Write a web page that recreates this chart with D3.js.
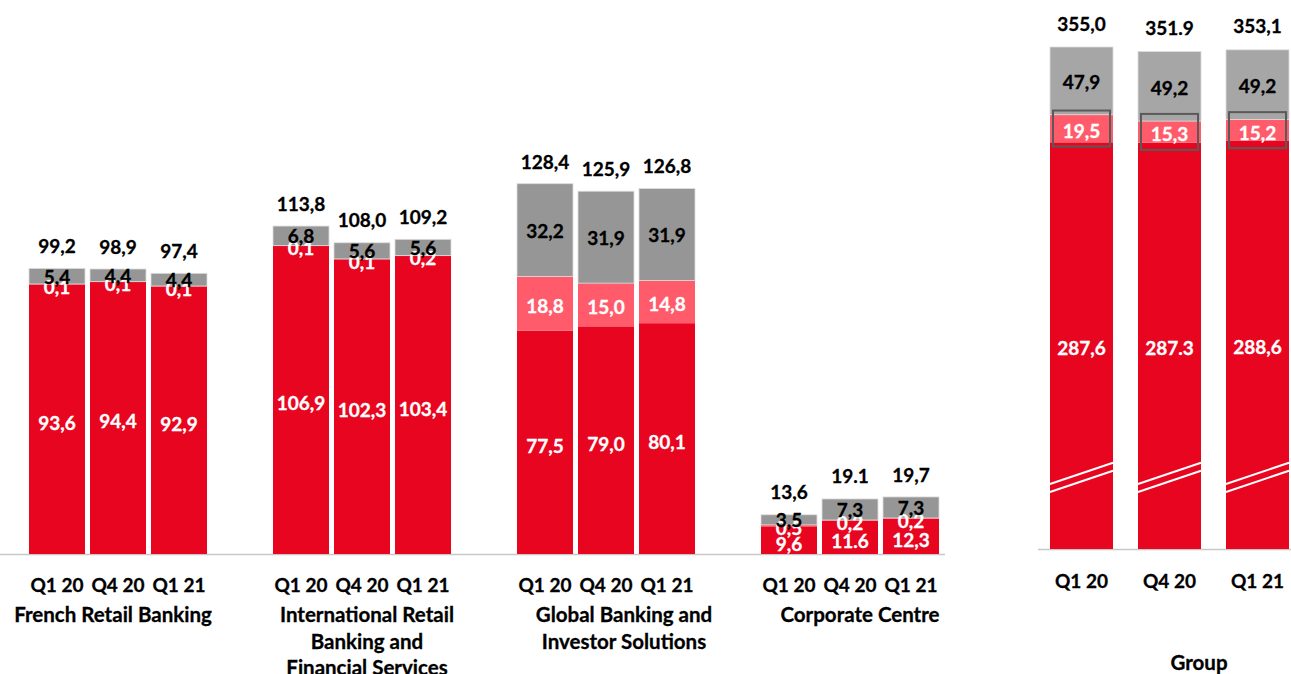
<!DOCTYPE html>
<html>
<head>
<meta charset="utf-8">
<script src="https://cdn.jsdelivr.net/npm/d3@7"></script>
<style>
  body { margin: 0; background: #fff; }
  text { font-family: Lato, "Noto Sans", sans-serif; font-weight: 700; }
</style>
</head>
<body>
<div id="chart"></div>
<script>
var periods = ["Q1 20", "Q4 20", "Q1 21"];
var businesses = ["FRB", "IRBFS", "GBIS", "CC"];
var businessNames = [
    ["French Retail Banking"],
    ["International Retail", "Banking and", "Financial Services"],
    ["Global Banking and", "Investor Solutions"],
    ["Corporate Centre"]
];

// RWA by business (EUR bn): credit (red), market (pink), operational (grey)
var creditRisk = {
    FRB: [93.6, 94.4, 92.9],
    IRBFS: [106.9, 102.3, 103.4],
    GBIS: [77.5, 79.0, 80.1],
    CC: [9.6, 11.6, 12.3]
};
var marketRisk = {
    FRB: [0.1, 0.1, 0.1],
    IRBFS: [0.1, 0.1, 0.2],
    GBIS: [18.8, 15.0, 14.8],
    CC: [0.5, 0.2, 0.2]
};
var operationalRisk = {
    FRB: [5.4, 4.4, 4.4],
    IRBFS: [6.8, 5.6, 5.6],
    GBIS: [32.2, 31.9, 31.9],
    CC: [3.5, 7.3, 7.3]
};
var totals = {
    FRB: [99.2, 98.9, 97.4],
    IRBFS: [113.8, 108.0, 109.2],
    GBIS: [128.4, 125.9, 126.8],
    CC: [13.6, 19.1, 19.7]
};

var groupCredit = [287.6, 287.3, 288.6];
var groupMarket = [19.5, 15.3, 15.2];
var groupOperational = [47.9, 49.2, 49.2];
var groupTotals = [355.0, 351.9, 353.1];
var groupBreak = [46, 61]; // value at left / right edge of the axis-break mark

// labels printed with a decimal point instead of a comma in the source
var pointLabels = ["CC|Q4 20|total", "CC|Q4 20|credit", "Group|Q4 20|total", "Group|Q4 20|credit"];

var colors = { credit: "#e8051f", market: "#ff5b6a", operational: "#969696", groupOperational: "#a6a6a6" };

function fmt(v, key) {
    var s = v.toFixed(1);
    return pointLabels.indexOf(key) >= 0 ? s : s.replace(".", ",");
}

var width = 1291, height = 674;
var svg = d3.select("#chart").append("svg")
    .attr("width", width)
    .attr("height", height);

// ---- business panel ----
var x0 = d3.scaleBand().domain(businesses).range([29, 939]).paddingInner(66 / 244);
var x1 = d3.scaleBand().domain(periods).range([0, x0.bandwidth()]).paddingInner(5 / 61);
var y = d3.scaleLinear().domain([0, 128.4]).range([554, 184]);

svg.append("line")
    .attr("x1", 0).attr("x2", 945)
    .attr("y1", y(0) + 0.5).attr("y2", y(0) + 0.5)
    .attr("stroke", "#c8c8c8").attr("stroke-width", 1.5);

var bars = [];
businesses.forEach(function (b) {
    periods.forEach(function (p, i) {
        var c = creditRisk[b][i], m = marketRisk[b][i], o = operationalRisk[b][i];
        bars.push({ b: b, p: p, x: x0(b) + x1(p), credit: c, market: m, operational: o, total: totals[b][i] });
    });
});

function drawStack(g, d, yS, w, greyColor) {
    var c0 = 0, c1 = d.credit, m1 = c1 + d.market, o1 = m1 + d.operational;
    g.append("rect").attr("x", d.x).attr("width", w)
        .attr("y", yS(c1)).attr("height", yS(c0) - yS(c1)).attr("fill", colors.credit);
    g.append("rect").attr("x", d.x).attr("width", w)
        .attr("y", yS(m1)).attr("height", yS(c1) - yS(m1)).attr("fill", colors.market);
    g.append("rect").attr("x", d.x).attr("width", w)
        .attr("y", yS(o1)).attr("height", yS(m1) - yS(o1)).attr("fill", greyColor)
        .attr("stroke", "#dcdcdc").attr("stroke-width", 0.8);
    return { c1: c1, m1: m1, o1: o1 };
}

var layer = svg.append("g");
var labelsLayer = svg.append("g");
bars.forEach(function (d) {
    var s = drawStack(layer, d, y, x1.bandwidth(), colors.operational);
    var cx = d.x + x1.bandwidth() / 2;
    var key = d.b + "|" + d.p + "|";
    labelsLayer.append("text").attr("x", cx).attr("y", (y(s.c1) + y(s.m1)) / 2 + 2)
        .attr("fill", "#fff").text(fmt(d.market, key + "market"));
    labelsLayer.append("text").attr("x", cx).attr("y", (y(0) + y(s.c1)) / 2 + 3)
        .attr("fill", "#fff").text(fmt(d.credit, key + "credit"));
    labelsLayer.append("text").attr("x", cx).attr("y", (y(s.m1) + y(s.o1)) / 2)
        .attr("fill", "#000").text(fmt(d.operational, key + "operational"));
    labelsLayer.append("text").attr("x", cx).attr("y", y(d.total) - 23)
        .attr("fill", "#000").text(fmt(d.total, key + "total"));
});

// period labels
businesses.forEach(function (b, bi) {
    periods.forEach(function (p) {
        labelsLayer.append("text")
            .attr("x", x0(b) + x1(p) + x1.bandwidth() / 2).attr("y", 584)
            .attr("fill", "#000").text(p);
    });
});

var nameCenters = { FRB: -5, IRBFS: 5, GBIS: 18, CC: 10 };
businesses.forEach(function (b, bi) {
    businessNames[bi].forEach(function (line, li) {
        labelsLayer.append("text")
            .attr("class", "name")
            .attr("x", x0(b) + x0.bandwidth() / 2 + nameCenters[b])
            .attr("y", 614 + li * 26.5)
            .attr("fill", "#000").text(line);
    });
});

// ---- group panel ----
var gx = d3.scaleBand().domain(periods).range([1050, 1289]).paddingInner(25 / 88);
var gy = d3.scaleLinear().domain([0, 355]).range([549, 47]);

svg.append("line")
    .attr("x1", 1038).attr("x2", 1291)
    .attr("y1", gy(0) + 0.5).attr("y2", gy(0) + 0.5)
    .attr("stroke", "#c8c8c8").attr("stroke-width", 1.5);

var gLayer = svg.append("g");
var gLabels = svg.append("g");
periods.forEach(function (p, i) {
    var d = { x: gx(p), credit: groupCredit[i], market: groupMarket[i], operational: groupOperational[i] };
    var s = drawStack(gLayer, d, gy, gx.bandwidth(), colors.groupOperational);
    var cx = d.x + gx.bandwidth() / 2;
    var key = "Group|" + p + "|";

    // axis-break mark
    [0, 8].forEach(function (off) {
        gLayer.append("line")
            .attr("x1", d.x).attr("x2", d.x + gx.bandwidth())
            .attr("y1", gy(groupBreak[0]) + off).attr("y2", gy(groupBreak[1]) + off)
            .attr("stroke", "#fff").attr("stroke-width", 2);
    });

    // highlight box around market risk
    var mc = (gy(s.c1) + gy(s.m1)) / 2;
    gLayer.append("rect")
        .attr("x", d.x + 3).attr("width", gx.bandwidth() - 6)
        .attr("y", mc - 18).attr("height", 36)
        .attr("fill", "none").attr("stroke", "#5a5a5a").attr("stroke-width", 2);

    gLabels.append("text").attr("x", cx).attr("y", mc + 2)
        .attr("fill", "#fff").text(fmt(d.market, key + "market"));
    gLabels.append("text").attr("x", cx).attr("y", (gy(0) + gy(s.c1)) / 2 + 2)
        .attr("fill", "#fff").text(fmt(d.credit, key + "credit"));
    gLabels.append("text").attr("x", cx).attr("y", (gy(s.m1) + gy(s.o1)) / 2 + 1)
        .attr("fill", "#000").text(fmt(d.operational, key + "operational"));
    gLabels.append("text").attr("x", cx).attr("y", gy(groupTotals[i]) - 24)
        .attr("fill", "#000").text(fmt(groupTotals[i], key + "total"));
    gLabels.append("text").attr("x", cx).attr("y", 580)
        .attr("fill", "#000").text(p);
});

gLabels.append("text").attr("class", "name").attr("x", 1199).attr("y", 662).attr("fill", "#000").text("Group");

svg.selectAll("text")
    .attr("text-anchor", "middle")
    .attr("dominant-baseline", "central")
    .attr("font-size", 19)
    .attr("stroke-width", 0.3)
    .attr("stroke", function () { return d3.select(this).attr("fill"); });

svg.selectAll("text.name")
    .attr("font-size", 20.5);
</script>
</body>
</html>
